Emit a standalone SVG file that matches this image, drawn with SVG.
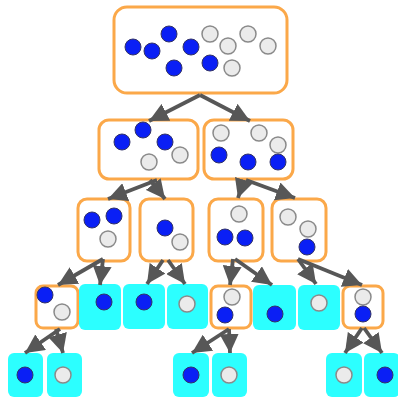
<svg xmlns="http://www.w3.org/2000/svg" width="398" height="398" viewBox="0 0 398 398">
  <style>
    .box { fill: #ffffff; stroke: #fba849; stroke-width: 3; }
    .leaf { fill: #2cffff; stroke: none; }
    .b { fill: #0a1ff5; stroke: #333366; stroke-width: 1; }
    .g { fill: #ebebeb; stroke: #8a8a8a; stroke-width: 1.5; }
    .link { fill: none; stroke: #575757; stroke-width: 3.8; marker-end: url(#head); }
  </style>
  <defs>
    <marker id="head" markerUnits="userSpaceOnUse" markerWidth="19" markerHeight="19" refX="19" refY="9.5" orient="auto" viewBox="0 0 19 19">
      <path d="M0,0 L19,9.5 L0,19 Z" fill="#575757"/>
    </marker>
  </defs>

  <!-- level 0 -->
  <g id="root">
    <rect class="box" x="114" y="7" width="173" height="86" rx="13"/>
    <circle class="b" cx="133" cy="47" r="8"/>
    <circle class="b" cx="152" cy="51" r="8"/>
    <circle class="b" cx="169" cy="34" r="8"/>
    <circle class="b" cx="191" cy="47" r="8"/>
    <circle class="b" cx="174" cy="68" r="8"/>
    <circle class="b" cx="210" cy="63" r="8"/>
    <circle class="g" cx="210" cy="34" r="8"/>
    <circle class="g" cx="228" cy="46" r="8"/>
    <circle class="g" cx="248" cy="34" r="8"/>
    <circle class="g" cx="268" cy="46" r="8"/>
    <circle class="g" cx="232" cy="68" r="8"/>
  </g>

  <!-- level 1 -->
  <g id="n1a">
    <rect class="box" x="99" y="120" width="99" height="59" rx="10"/>
    <circle class="b" cx="122" cy="142" r="8"/>
    <circle class="b" cx="143" cy="130" r="8"/>
    <circle class="b" cx="165" cy="142" r="8"/>
    <circle class="g" cx="149" cy="162" r="8"/>
    <circle class="g" cx="180" cy="155" r="8"/>
  </g>
  <g id="n1b">
    <rect class="box" x="204" y="120" width="89" height="59" rx="10"/>
    <circle class="g" cx="221" cy="133" r="8"/>
    <circle class="g" cx="259" cy="133" r="8"/>
    <circle class="g" cx="278" cy="145" r="8"/>
    <circle class="b" cx="219" cy="155" r="8"/>
    <circle class="b" cx="248" cy="162" r="8"/>
    <circle class="b" cx="278" cy="162" r="8"/>
  </g>

  <!-- level 2 -->
  <g id="n2a">
    <rect class="box" x="78" y="199" width="52" height="62" rx="9"/>
    <circle class="b" cx="92" cy="220" r="8"/>
    <circle class="b" cx="114" cy="216" r="8"/>
    <circle class="g" cx="108" cy="239" r="8"/>
  </g>
  <g id="n2b">
    <rect class="box" x="140" y="199" width="53" height="62" rx="9"/>
    <circle class="b" cx="165" cy="228" r="8"/>
    <circle class="g" cx="180" cy="242" r="8"/>
  </g>
  <g id="n2c">
    <rect class="box" x="209" y="199" width="54" height="62" rx="9"/>
    <circle class="g" cx="239" cy="214" r="8"/>
    <circle class="b" cx="225" cy="237" r="8"/>
    <circle class="b" cx="245" cy="238" r="8"/>
  </g>
  <g id="n2d">
    <rect class="box" x="272" y="199" width="54" height="62" rx="9"/>
    <circle class="g" cx="288" cy="217" r="8"/>
    <circle class="g" cx="308" cy="229" r="8"/>
    <circle class="b" cx="307" cy="247" r="8"/>
  </g>

  <!-- level 3 -->
  <g id="n3a">
    <rect class="box" x="36" y="286" width="42" height="42" rx="7"/>
    <circle class="b" cx="45" cy="295" r="8"/>
    <circle class="g" cx="62" cy="312" r="8"/>
  </g>
  <g id="n3b">
    <rect class="leaf" x="79" y="284" width="42" height="46" rx="6"/>
    <circle class="b" cx="104" cy="302" r="8"/>
  </g>
  <g id="n3c">
    <rect class="leaf" x="123" y="284" width="42" height="45" rx="6"/>
    <circle class="b" cx="144" cy="302" r="8"/>
  </g>
  <g id="n3d">
    <rect class="leaf" x="167" y="284" width="41" height="45" rx="6"/>
    <circle class="g" cx="187" cy="304" r="8"/>
  </g>
  <g id="n3e">
    <rect class="box" x="211" y="286" width="40" height="42" rx="7"/>
    <circle class="g" cx="232" cy="297" r="8"/>
    <circle class="b" cx="225" cy="315" r="8"/>
  </g>
  <g id="n3f">
    <rect class="leaf" x="253" y="285" width="43" height="45" rx="6"/>
    <circle class="b" cx="275" cy="314" r="8"/>
  </g>
  <g id="n3g">
    <rect class="leaf" x="298" y="285" width="42" height="45" rx="6"/>
    <circle class="g" cx="319" cy="303" r="8"/>
  </g>
  <g id="n3h">
    <rect class="box" x="343" y="286" width="40" height="42" rx="7"/>
    <circle class="g" cx="363" cy="297" r="8"/>
    <circle class="b" cx="363" cy="314" r="8"/>
  </g>

  <!-- level 4 -->
  <g id="n4a">
    <rect class="leaf" x="8" y="353" width="35" height="44" rx="6"/>
    <circle class="b" cx="25" cy="375" r="8"/>
  </g>
  <g id="n4b">
    <rect class="leaf" x="47" y="353" width="35" height="44" rx="6"/>
    <circle class="g" cx="63" cy="375" r="8"/>
  </g>
  <g id="n4c">
    <rect class="leaf" x="173" y="353" width="36" height="44" rx="6"/>
    <circle class="b" cx="191" cy="375" r="8"/>
  </g>
  <g id="n4d">
    <rect class="leaf" x="212" y="353" width="35" height="44" rx="6"/>
    <circle class="g" cx="229" cy="375" r="8"/>
  </g>
  <g id="n4e">
    <rect class="leaf" x="326" y="353" width="36" height="44" rx="6"/>
    <circle class="g" cx="344" cy="375" r="8"/>
  </g>
  <g id="n4f">
    <rect class="leaf" x="364" y="353" width="36" height="44" rx="6"/>
    <circle class="b" cx="385" cy="375" r="8"/>
  </g>

  <!-- connectors -->
  <g id="links">
    <line class="link" x1="200" y1="95" x2="149" y2="121"/>
    <line class="link" x1="200" y1="95" x2="250" y2="121"/>
    <line class="link" x1="157" y1="180" x2="108" y2="199"/>
    <line class="link" x1="150" y1="180" x2="165" y2="199"/>
    <line class="link" x1="244" y1="180" x2="238" y2="198"/>
    <line class="link" x1="246" y1="180" x2="295" y2="198"/>
    <line class="link" x1="103" y1="259" x2="58" y2="285"/>
    <line class="link" x1="103" y1="259" x2="100" y2="285"/>
    <line class="link" x1="163" y1="260" x2="147" y2="284"/>
    <line class="link" x1="168" y1="260" x2="185" y2="284"/>
    <line class="link" x1="233" y1="259" x2="230" y2="285"/>
    <line class="link" x1="235" y1="259" x2="272" y2="285"/>
    <line class="link" x1="298" y1="259" x2="316" y2="284"/>
    <line class="link" x1="298" y1="259" x2="362" y2="285"/>
    <line class="link" x1="60" y1="329" x2="25" y2="353"/>
    <line class="link" x1="56" y1="329" x2="63" y2="353"/>
    <line class="link" x1="229" y1="329" x2="192" y2="353"/>
    <line class="link" x1="229" y1="329" x2="230" y2="353"/>
    <line class="link" x1="362" y1="328" x2="345" y2="353"/>
    <line class="link" x1="364" y1="328" x2="382" y2="353"/>
  </g>
</svg>
